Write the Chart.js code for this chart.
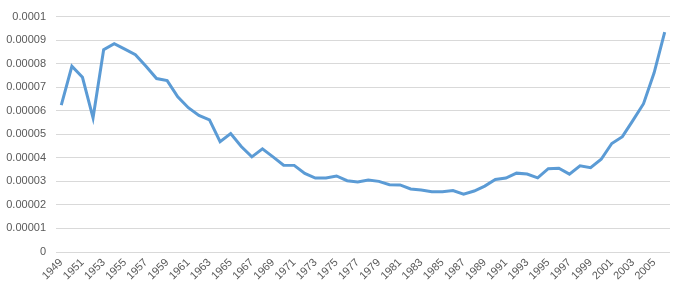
<!DOCTYPE html>
<html>
<head>
<meta charset="utf-8">
<script src="https://cdn.jsdelivr.net/npm/chart.js@4"></script>
<style>
html,body{margin:0;padding:0;background:#fff;}
#wrap{width:680px;height:293px;position:relative;}
</style>
</head>
<body>
<div id="wrap"><canvas id="c" width="680" height="293"></canvas></div>
<script>
const years = [];
for (let y = 1949; y <= 2006; y++) years.push(String(y));
const values = [
  0.0000624, 0.0000789, 0.0000742, 0.0000570, 0.0000859, 0.0000885, 0.0000862, 0.0000838,
  0.0000789, 0.0000737, 0.0000728, 0.0000659, 0.0000613, 0.0000580, 0.0000561, 0.0000469,
  0.0000503, 0.0000448, 0.0000404, 0.0000438, 0.0000404, 0.0000369, 0.0000368, 0.0000334,
  0.0000314, 0.0000314, 0.0000323, 0.0000303, 0.0000297, 0.0000306, 0.0000300, 0.0000286,
  0.0000285, 0.0000268, 0.0000263, 0.0000256, 0.0000256, 0.0000261, 0.0000246, 0.0000259,
  0.0000280, 0.0000308, 0.0000314, 0.0000335, 0.0000331, 0.0000315, 0.0000354, 0.0000356,
  0.0000331, 0.0000366, 0.0000358, 0.0000394, 0.0000461, 0.0000490, 0.0000559, 0.0000630,
  0.0000761, 0.0000934
];
const yTicks = [0, 0.00001, 0.00002, 0.00003, 0.00004, 0.00005, 0.00006, 0.00007, 0.00008, 0.00009, 0.0001];

new Chart(document.getElementById('c'), {
  type: 'line',
  data: {
    labels: years,
    datasets: [{
      data: values,
      borderColor: '#5B9BD5',
      borderWidth: 3,
      pointRadius: 0,
      tension: 0,
      fill: false
    }]
  },
  options: {
    responsive: false,
    animation: false,
    devicePixelRatio: 1,
    layout: { padding: { top: 15, right: 10, left: 0, bottom: 0 } },
    plugins: { legend: { display: false }, tooltip: { enabled: false } },
    scales: {
      x: {
        offset: true,
        grid: { display: false, drawTicks: false },
        border: { display: false },
        ticks: {
          autoSkip: false,
          minRotation: 45,
          maxRotation: 45,
          padding: 4,
          color: '#595959',
          font: { family: 'Liberation Sans', size: 11 },
          callback: function(v, i) { return i % 2 === 0 ? years[i] : ''; }
        },
        afterFit: function(s) { s.height = 41; }
      },
      y: {
        min: 0,
        max: 0.0001,
        afterBuildTicks: function(s) { s.ticks = yTicks.map(v => ({ value: v })); },
        grid: { color: '#d9d9d9', lineWidth: 1, drawTicks: false },
        border: { display: false },
        ticks: {
          padding: 10,
          color: '#595959',
          font: { family: 'Liberation Sans', size: 11 },
          callback: function(v) { return v === 0 ? '0' : String(parseFloat(v.toFixed(5))); }
        },
        afterFit: function(s) { s.width = 56; }
      }
    }
  }
});
</script>
</body>
</html>
